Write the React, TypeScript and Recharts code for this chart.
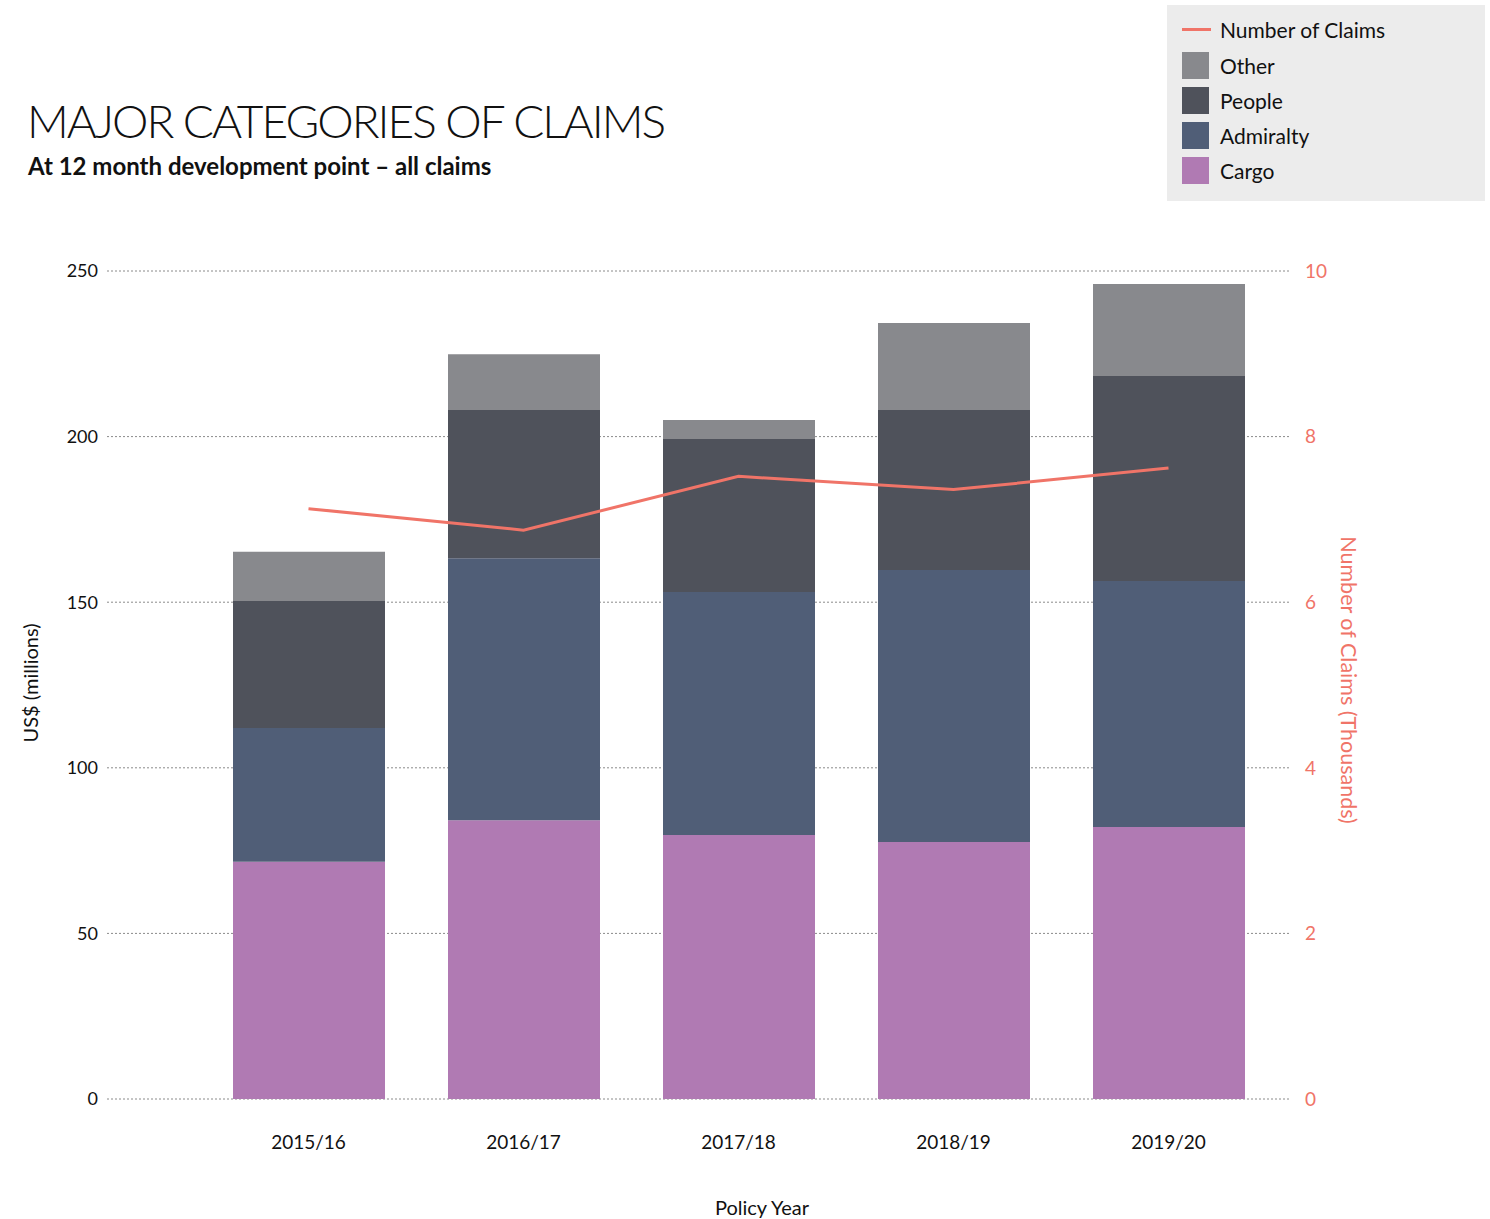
import React from 'react';
import { ComposedChart, Bar, Line, XAxis, YAxis, CartesianGrid } from 'recharts';

const years = ['2015/16', '2016/17', '2017/18', '2018/19', '2019/20'];
const cargo = [71.6, 84.2, 79.7, 77.6, 82.1];
const admiralty = [40.4, 79.1, 73.4, 82.1, 74.3];
const people = [38.4, 44.7, 46.2, 48.3, 61.9];
const other = [14.8, 16.9, 5.7, 26.3, 27.8];
const claims = [7.13, 6.87, 7.52, 7.36, 7.62];

const leftTicks = [0, 50, 100, 150, 200, 250];
const rightTicks = [0, 2, 4, 6, 8, 10];

const colors = {
  other: '#88898d',
  people: '#4f525b',
  admiralty: '#505e77',
  cargo: '#b07ab3',
  claims: '#f07468',
};

const font = 'Lato, "Open Sans", sans-serif';

const data = years.map((y, i) => ({
  year: y,
  cargo: cargo[i],
  admiralty: admiralty[i],
  people: people[i],
  other: other[i],
  claims: claims[i],
}));

const legendItems = [
  { name: 'Other', color: colors.other },
  { name: 'People', color: colors.people },
  { name: 'Admiralty', color: colors.admiralty },
  { name: 'Cargo', color: colors.cargo },
];

const Legend: React.FC = () => (
  <div
    style={{
      position: 'absolute',
      left: 1167,
      top: 5,
      width: 318,
      height: 196,
      background: '#ececec',
      fontFamily: font,
      fontSize: 21,
      color: '#111',
    }}
  >
    <div style={{ position: 'absolute', left: 15, top: 11, display: 'flex', alignItems: 'center', height: 27 }}>
      <div style={{ width: 29, height: 3, background: colors.claims }} />
      <span style={{ marginLeft: 9 }}>Number of Claims</span>
    </div>
    {legendItems.map((it, i) => (
      <div
        key={it.name}
        style={{ position: 'absolute', left: 15, top: 47 + i * 35, display: 'flex', alignItems: 'center', height: 27 }}
      >
        <div style={{ width: 27, height: 27, background: it.color }} />
        <span style={{ marginLeft: 11 }}>{it.name}</span>
      </div>
    ))}
  </div>
);

const App: React.FC = () => {
  return (
    <div style={{ position: 'absolute', left: 0, top: 0, width: 1490, height: 1219, background: '#fff', fontFamily: font }}>
      <div style={{ position: 'absolute', left: 27, top: 93, fontSize: 46, fontWeight: 300, color: '#111', letterSpacing: -2, whiteSpace: 'nowrap' }}>
        MAJOR CATEGORIES OF CLAIMS
      </div>
      <div style={{ position: 'absolute', left: 28, top: 151, fontSize: 24, fontWeight: 700, color: '#111', whiteSpace: 'nowrap' }}>
        At 12 month development point – all claims
      </div>
      <Legend />

      <div style={{ position: 'absolute', left: 0, top: 0 }}>
        <ComposedChart
          width={1490}
          height={1219}
          data={data}
          margin={{ top: 271, right: 140, bottom: 60, left: 47 }}
        >
          <CartesianGrid vertical={false} stroke="#8a8a8a" strokeDasharray="2 2" yAxisId="left" />
          <XAxis
            dataKey="year"
            axisLine={false}
            tickLine={false}
            tickSize={0}
            tickMargin={37}
            height={60}
            padding={{ left: 94, right: 14 }}
            tick={{ fontSize: 19, fill: '#111', fontFamily: font }}
          />
          <YAxis
            yAxisId="left"
            domain={[0, 250]}
            ticks={leftTicks}
            width={60}
            axisLine={false}
            tickLine={false}
            tickSize={0}
            tickMargin={9}
            tick={{ fontSize: 18, fill: '#111', fontFamily: font }}
          />
          <YAxis
            yAxisId="right"
            orientation="right"
            domain={[0, 10]}
            ticks={rightTicks}
            width={60}
            axisLine={false}
            tickLine={false}
            tickSize={0}
            tickMargin={15}
            tick={{ fontSize: 19, fill: colors.claims, fontFamily: font }}
          />
          <Bar yAxisId="left" dataKey="cargo" stackId="a" fill={colors.cargo} barSize={152} isAnimationActive={false} />
          <Bar yAxisId="left" dataKey="admiralty" stackId="a" fill={colors.admiralty} barSize={152} isAnimationActive={false} />
          <Bar yAxisId="left" dataKey="people" stackId="a" fill={colors.people} barSize={152} isAnimationActive={false} />
          <Bar yAxisId="left" dataKey="other" stackId="a" fill={colors.other} barSize={152} isAnimationActive={false} />
          <Line
            yAxisId="right"
            dataKey="claims"
            stroke={colors.claims}
            strokeWidth={3}
            dot={false}
            type="linear"
            isAnimationActive={false}
          />
        </ComposedChart>
      </div>

      <div
        style={{
          position: 'absolute',
          left: 30,
          top: 683,
          transform: 'translate(-50%, -50%) rotate(-90deg)',
          fontSize: 20,
          color: '#111',
          whiteSpace: 'nowrap',
        }}
      >
        US$ (millions)
      </div>
      <div
        style={{
          position: 'absolute',
          left: 1349,
          top: 680,
          transform: 'translate(-50%, -50%) rotate(90deg)',
          fontSize: 21.5,
          color: colors.claims,
          whiteSpace: 'nowrap',
        }}
      >
        Number of Claims (Thousands)
      </div>
      <div
        style={{
          position: 'absolute',
          left: 762,
          top: 1207,
          transform: 'translate(-50%, -50%)',
          fontSize: 20,
          color: '#111',
          whiteSpace: 'nowrap',
        }}
      >
        Policy Year
      </div>
    </div>
  );
};

export default App;
